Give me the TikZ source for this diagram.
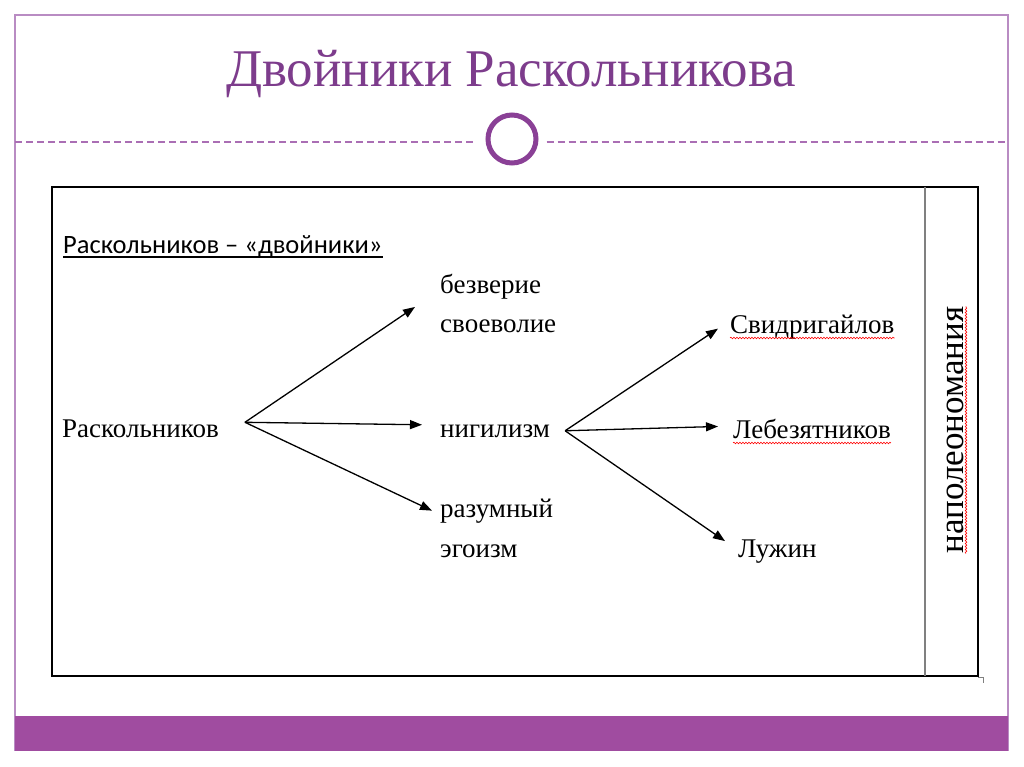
\documentclass[tikz,border=0pt]{standalone}
\usepackage{fontspec}
\setmainfont{Liberation Serif}
\newfontfamily\calibrifont{Carlito}
\usetikzlibrary{arrows.meta,positioning,decorations.pathmorphing}
\definecolor{slidepurple}{RGB}{160,76,160}
\definecolor{titlepurple}{RGB}{125,60,140}
\definecolor{ringpurple}{RGB}{138,64,150}
\definecolor{framepurple}{RGB}{185,140,195}
\definecolor{dashpurple}{RGB}{170,110,180}

\begin{document}
\begin{tikzpicture}[x=1pt, y=-1pt,
    txt/.style={inner sep=0pt, font=\fontsize{27}{39}\selectfont, anchor=base west},
    arr/.style={-{Triangle[length=12pt,width=9pt]}, line width=1.3pt},
    spell/.style={red, line width=0.6pt, decorate,
                  decoration={snake, segment length=3pt, amplitude=0.8pt}}]
   \useasboundingbox (0,0) rectangle (1024,767);
   \fill[white] (0,0) rectangle (1024,767);
   \draw[framepurple, line width=1.5pt] (15,751) -- (15,15) -- (1008,15) -- (1008,751);
   \fill[slidepurple] (15,716) rectangle (1008,751);

   \node[inner sep=0pt, anchor=base, text=titlepurple,
         font=\fontsize{53}{60}\selectfont] (title) at (511,87) {Двойники Раскольникова};
   \node[draw=ringpurple, line width=5pt, circle, minimum size=48pt, inner sep=0pt] (ring) at (512,139) {};
   \coordinate (dashL) at (15,142);
   \coordinate (dashR) at (1008,142);
   \draw[dashpurple, line width=1.5pt, dash pattern=on 7pt off 4pt, shorten >=10pt] (dashL) -- (dashL -| ring.west);
   \draw[dashpurple, line width=1.5pt, dash pattern=on 7pt off 4pt, shorten <=8pt] (dashR -| ring.east) -- (dashR);

   \draw[line width=1.5pt] (52,187) rectangle (978,676);
   \draw[gray, line width=1.5pt] (925,187) -- (925,676);
   \draw[gray, line width=0.8pt] (978,677) -- (983,677) -- (983,683);

   \node[txt, font=\calibrifont\fontsize{26.5}{34}\selectfont] (head) at (63,253) {Раскольников – «двойники»};
   \draw[line width=2pt] ([yshift=-4pt]head.base west) -- ([yshift=-4pt]head.base east);

   \node[txt] (rask) at (62,437) {Раскольников};
   \node[txt] (bez1) at (440,293) {безверие};
   \node[txt, below=39pt of bez1.base west, anchor=base west] (bez2) {своеволие};
   \node[txt] (nig) at (440,437) {нигилизм};
   \node[txt] (raz1) at (440,517) {разумный};
   \node[txt, below=40pt of raz1.base west, anchor=base west] (raz2) {эгоизм};
   \node[txt] (svid) at (730,333) {Свидригайлов};
   \node[txt] (leb) at (733,438) {Лебезятников};
   \node[txt] (luzh) at (738,557) {Лужин};
   \node[inner sep=0pt, anchor=base, rotate=90,
         font=\fontsize{35}{40}\selectfont] (napo) at (963,430) {наполеономания};

   \draw[spell] ([yshift=-5pt]svid.base west) -- ([yshift=-5pt]svid.base east);
   \draw[spell] ([yshift=-5pt]leb.base west) -- ([yshift=-5pt]leb.base east);
   \draw[spell] ([xshift=3pt]napo.base west) -- ([xshift=3pt]napo.base east);

   \draw[arr] ([xshift=26pt,yshift=6pt]rask.east) -- ([xshift=-25pt,yshift=-8pt]bez1.south west);
   \draw[arr] ([xshift=26pt,yshift=6pt]rask.east) -- ([xshift=-18pt,yshift=6pt]nig.west);
   \draw[arr] ([xshift=26pt,yshift=6pt]rask.east) -- ([xshift=-8pt]raz1.west);
   \draw[arr] ([xshift=15pt]nig.east) -- ([xshift=-12pt,yshift=-2pt]svid.west);
   \draw[arr] ([xshift=15pt]nig.east) -- ([xshift=-15pt,yshift=2pt]leb.west);
   \draw[arr] ([xshift=15pt]nig.east) -- ([xshift=-13pt,yshift=10pt]luzh.west);
\end{tikzpicture}
\end{document}
